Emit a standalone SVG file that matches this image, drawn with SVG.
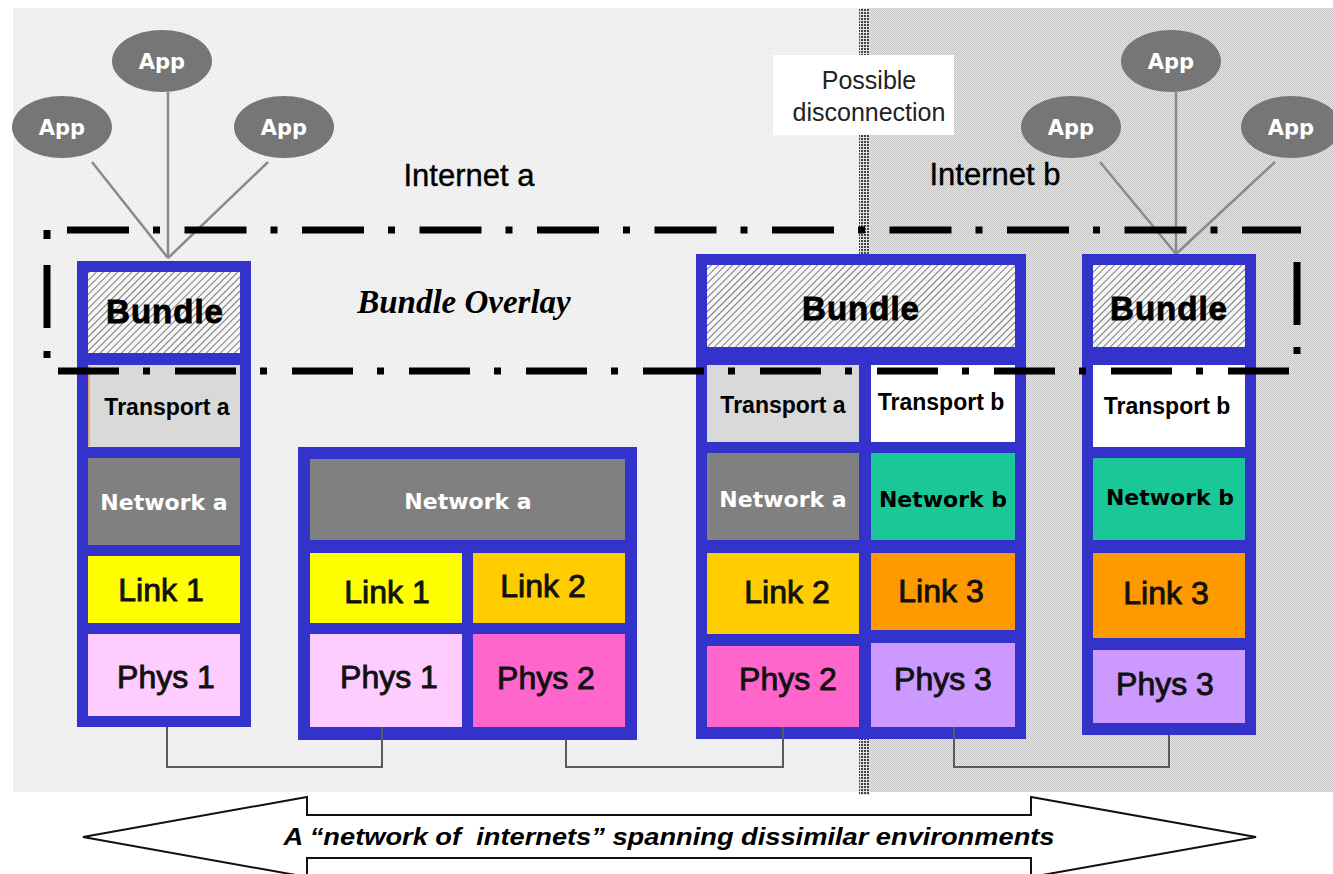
<svg xmlns="http://www.w3.org/2000/svg" width="1333" height="874" viewBox="0 0 1333 874">
<defs>
 <pattern id="bgL" width="4" height="4" patternUnits="userSpaceOnUse">
  <rect width="4" height="4" fill="#f2f2f2"/>
  <rect x="0" y="0" width="1" height="1" fill="#e0e0e0"/>
  <rect x="2" y="2" width="1" height="1" fill="#e0e0e0"/>
 </pattern>
 <pattern id="bgR" width="2" height="2" patternUnits="userSpaceOnUse">
  <rect width="2" height="2" fill="#e6e6e6"/>
  <rect width="1" height="1" fill="#c4c4c4"/>
  <rect x="1" y="1" width="1" height="1" fill="#c4c4c4"/>
 </pattern>
 <pattern id="divp" width="3" height="3" patternUnits="userSpaceOnUse">
  <rect width="3" height="3" fill="#e0e0e0"/>
  <rect width="2" height="2" fill="#444"/>
 </pattern>
 <pattern id="hatch" width="5" height="5" patternUnits="userSpaceOnUse" patternTransform="rotate(45)">
  <rect width="5" height="5" fill="#f6f6f6"/>
  <line x1="0" y1="0" x2="0" y2="5" stroke="#7a7a7a" stroke-width="2"/>
 </pattern>
</defs>
<style>
 .blue{fill:#3333cc}
 .hat{fill:url(#hatch)}
 .lay{font-family:"Liberation Sans",Arial,sans-serif;font-size:32px;fill:#111;text-anchor:middle;stroke:#111;stroke-width:0.9}
 .bun{font-family:"Liberation Sans",Arial,sans-serif;font-size:33px;font-weight:bold;fill:#000;text-anchor:middle;letter-spacing:1px;stroke:#000;stroke-width:0.9}
 .tr{font-family:"Liberation Sans",Arial,sans-serif;font-size:23px;font-weight:bold;fill:#000;text-anchor:middle}
 .net{font-family:"DejaVu Sans",Verdana,sans-serif;font-size:22px;font-weight:bold;text-anchor:middle}
 .app{font-family:"DejaVu Sans",Verdana,sans-serif;font-size:21px;font-weight:bold;fill:#fff;text-anchor:middle}
 .ell{fill:#767676}
 .appl{stroke:#8a8a8a;stroke-width:2.5;fill:none}
 .inet{font-family:"Liberation Sans",Arial,sans-serif;font-size:31px;fill:#000;text-anchor:middle;stroke:#000;stroke-width:0.4}
 .conn{fill:none;stroke:#5a5a5a;stroke-width:2}
 .dd{stroke:#000;stroke-width:7;fill:none}
</style>

<!-- backgrounds -->
<rect x="13" y="8" width="850" height="784" fill="url(#bgL)"/>
<rect x="868" y="8" width="465" height="784" fill="url(#bgR)"/>
<rect x="859" y="8" width="11" height="787" fill="url(#divp)"/>

<g id="disconnection">
 <rect x="773" y="55" width="181" height="80" fill="#fff"/>
 <text x="869" y="89" font-family="Liberation Sans, Arial, sans-serif" font-size="25" fill="#222" text-anchor="middle">Possible</text>
 <text x="869" y="121" font-family="Liberation Sans, Arial, sans-serif" font-size="25" fill="#222" text-anchor="middle">disconnection</text>
</g>

<text id="internet-a" class="inet" x="469" y="186">Internet a</text>
<text id="internet-b" class="inet" x="995" y="185">Internet b</text>

<!-- app links -->
<g id="connectors">
 <line class="appl" x1="92" y1="162" x2="168" y2="258"/>
 <line class="appl" x1="168" y1="92" x2="168" y2="258"/>
 <line class="appl" x1="268" y1="162" x2="168" y2="258"/>
 <line class="appl" x1="1100" y1="162" x2="1176" y2="254"/>
 <line class="appl" x1="1176" y1="92" x2="1176" y2="254"/>
 <line class="appl" x1="1275" y1="162" x2="1176" y2="254"/>
</g>

<g id="app-l1"><ellipse class="ell" cx="62" cy="127" rx="50" ry="31"/><text class="app" x="62" y="135">App</text></g>
<g id="app-l2"><ellipse class="ell" cx="162" cy="61" rx="50" ry="31"/><text class="app" x="162" y="69">App</text></g>
<g id="app-l3"><ellipse class="ell" cx="284" cy="127" rx="50" ry="31"/><text class="app" x="284" y="135">App</text></g>
<g id="app-r1"><ellipse class="ell" cx="1071" cy="127" rx="50" ry="31"/><text class="app" x="1071" y="135">App</text></g>
<g id="app-r2"><ellipse class="ell" cx="1171" cy="61" rx="50" ry="31"/><text class="app" x="1171" y="69">App</text></g>
<g id="app-r3"><ellipse class="ell" cx="1291" cy="127" rx="50" ry="31"/><text class="app" x="1291" y="135">App</text></g>

<!-- Stack 1 -->
<g id="stack1">
 <rect class="blue" x="77" y="261" width="174" height="466"/>
 <rect class="hat" x="88" y="272" width="152" height="81"/>
 <rect x="88" y="365" width="152" height="82" fill="#d9d9d9"/>
 <line x1="89" y1="366" x2="89" y2="446" stroke="#e89a50" stroke-width="1.5"/>
 <rect x="88" y="458" width="152" height="87" fill="#808080"/>
 <rect x="88" y="556" width="152" height="67" fill="#ffff00"/>
 <rect x="88" y="634" width="152" height="82" fill="#ffccff"/>
 <text class="bun" x="165" y="323">Bundle</text>
 <text class="tr" x="167" y="415">Transport a</text>
 <text class="net" x="164" y="510" fill="#fff">Network a</text>
 <text class="lay" x="161" y="601">Link 1</text>
 <text class="lay" x="166" y="688">Phys 1</text>
</g>

<!-- Stack 2 -->
<g id="stack2">
 <rect class="blue" x="298" y="447" width="339" height="293"/>
 <rect x="310" y="459" width="315" height="81" fill="#808080"/>
 <rect x="310" y="553" width="152" height="70" fill="#ffff00"/>
 <rect x="473" y="553" width="152" height="70" fill="#ffcc00"/>
 <rect x="310" y="634" width="152" height="93" fill="#ffccff"/>
 <rect x="473" y="634" width="152" height="93" fill="#ff66cc"/>
 <text class="net" x="468" y="509" fill="#fff">Network a</text>
 <text class="lay" x="387" y="603">Link 1</text>
 <text class="lay" x="543" y="597">Link 2</text>
 <text class="lay" x="389" y="688">Phys 1</text>
 <text class="lay" x="546" y="689">Phys 2</text>
</g>

<!-- Stack 3 -->
<g id="stack3">
 <rect class="blue" x="696" y="254" width="330" height="485"/>
 <rect class="hat" x="707" y="265" width="308" height="82"/>
 <rect x="707" y="365" width="152" height="77" fill="#d9d9d9"/>
 <rect x="871" y="365" width="144" height="77" fill="#ffffff"/>
 <rect x="707" y="453" width="152" height="87" fill="#808080"/>
 <rect x="871" y="453" width="144" height="87" fill="#19c896"/>
 <rect x="707" y="553" width="152" height="81" fill="#ffcc00"/>
 <rect x="871" y="553" width="144" height="77" fill="#ff9900"/>
 <rect x="707" y="646" width="152" height="81" fill="#ff66cc"/>
 <rect x="871" y="643" width="144" height="84" fill="#cc99ff"/>
 <text class="bun" x="861" y="320">Bundle</text>
 <text class="tr" x="783" y="413">Transport a</text>
 <text class="tr" x="941" y="410">Transport b</text>
 <text class="net" x="783" y="507" fill="#fff">Network a</text>
 <text class="net" x="943" y="507" fill="#000">Network b</text>
 <text class="lay" x="787" y="603">Link 2</text>
 <text class="lay" x="941" y="602">Link 3</text>
 <text class="lay" x="788" y="690">Phys 2</text>
 <text class="lay" x="943" y="690">Phys 3</text>
</g>

<!-- Stack 4 -->
<g id="stack4">
 <rect class="blue" x="1082" y="254" width="174" height="481"/>
 <rect class="hat" x="1093" y="265" width="152" height="82"/>
 <rect x="1093" y="365" width="152" height="82" fill="#ffffff"/>
 <rect x="1093" y="458" width="152" height="82" fill="#19c896"/>
 <rect x="1093" y="553" width="152" height="85" fill="#ff9900"/>
 <rect x="1093" y="650" width="152" height="73" fill="#cc99ff"/>
 <text class="bun" x="1169" y="320">Bundle</text>
 <text class="tr" x="1167" y="414">Transport b</text>
 <text class="net" x="1170" y="505" fill="#000">Network b</text>
 <text class="lay" x="1166" y="604">Link 3</text>
 <text class="lay" x="1165" y="695">Phys 3</text>
</g>

<!-- physical links -->
<g id="links">
 <polyline class="conn" points="167,727 167,767 382,767 382,727"/>
 <polyline class="conn" points="566,739 566,767 783,767 783,727"/>
 <polyline class="conn" points="954,727 954,767 1169,767 1169,735"/>
</g>

<!-- bundle overlay dash-dot boundary -->
<g id="bundle-overlay">
 <line class="dd" x1="67" y1="230" x2="1301" y2="230" stroke-dasharray="62 24 7 24.5"/>
 <line class="dd" x1="58" y1="371" x2="1290" y2="371" stroke-dasharray="61 24 7 25"/>
 <line class="dd" x1="47" y1="230" x2="47" y2="371" stroke-dasharray="9 26 63 23 7 100"/>
 <line class="dd" x1="1297" y1="230" x2="1297" y2="371" stroke-dasharray="0 32 63 22 7 100"/>
 <text x="464" y="313" font-family="Liberation Serif, 'Times New Roman', serif" font-size="33" font-weight="bold" font-style="italic" fill="#000" text-anchor="middle">Bundle Overlay</text>
</g>

<!-- bottom double arrow -->
<g id="span-arrow">
 <polygon points="83,837 307,797 307,815 1031,815 1031,797 1256,837 1031,877 1031,858 307,858 307,877" fill="#fff" stroke="#111" stroke-width="2"/>
 <text x="669" y="845" font-family="Liberation Sans, Arial, sans-serif" font-size="23" font-weight="bold" font-style="italic" fill="#000" text-anchor="middle" textLength="771" lengthAdjust="spacingAndGlyphs" xml:space="preserve">A “network of  internets” spanning dissimilar environments</text>
</g>
</svg>
